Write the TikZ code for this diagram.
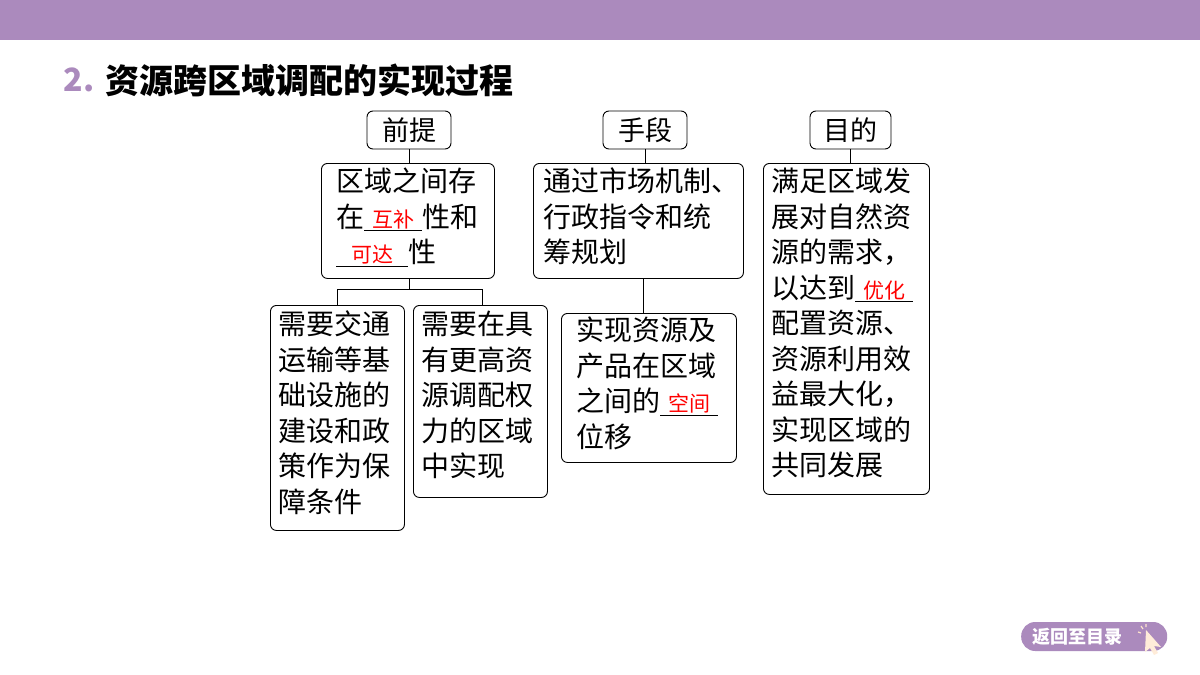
\documentclass[tikz,border=0pt]{standalone}
\usepackage{fontspec}
\setmainfont{Noto Sans CJK SC}
\definecolor{purp}{HTML}{AB8ABD}
\newcommand{\blank}[2]{\underline{\hbox to #1pt{\hss\textcolor{red}{\fontsize{21}{21}\selectfont #2}\hss}}}
\tikzset{
 box/.style={draw,rounded corners=6pt,line width=0.9pt,anchor=north west,inner sep=0pt},
 txt/.style={anchor=north west,align=left,font=\fontsize{28}{35.5}\selectfont,inner sep=0pt},
 head/.style={draw,rounded corners=6pt,line width=0.9pt,font=\fontsize{27}{30}\selectfont,inner sep=0pt},
 ln/.style={line width=0.8pt}
}
\begin{document}
\begin{tikzpicture}[x=1pt,y=-1pt]
\useasboundingbox (0,0) rectangle (1200,675);
\fill[purp] (0,0) rectangle (1200,40);
\node[anchor=west,text=purp,font=\fontsize{32}{32}\selectfont\bfseries] (num) at (60,80) {2.};
\node[anchor=west,font=\fontsize{34}{34}\selectfont\bfseries] (title) at (102,80) {资源跨区域调配的实现过程};
% heads
\node[head,minimum width=84pt,minimum height=38pt] (h1) at (409,130) {前提};
\node[head,minimum width=84pt,minimum height=38pt] (h2) at (645,130) {手段};
\node[head,minimum width=81pt,minimum height=38pt] (h3) at (850.5,130) {目的};
% boxes
\node[box,minimum width=173pt,minimum height=115pt] (a) at (321,163) {};
\node[txt] (at) at (336,168) {区域之间存\\在\blank{58}{互补}性和\\\blank{72}{可达}性};
\node[box,minimum width=210pt,minimum height=115pt] (b) at (533,163) {};
\node[txt] (bt) at (543,168) {通过市场机制、\\行政指令和统\\筹规划};
\node[box,minimum width=166pt,minimum height=331pt] (c) at (763,163) {};
\node[txt] (ct) at (771,168) {满足区域发\\展对自然资\\源的需求，\\以达到\blank{58}{优化}\\配置资源、\\资源利用效\\益最大化，\\实现区域的\\共同发展};
\node[box,minimum width=134pt,minimum height=225pt] (d) at (270,305) {};
\node[txt] (dt) at (278,311) {需要交通\\运输等基\\础设施的\\建设和政\\策作为保\\障条件};
\node[box,minimum width=134pt,minimum height=192pt] (e) at (413,305) {};
\node[txt] (et) at (421,311) {需要在具\\有更高资\\源调配权\\力的区域\\中实现};
\node[box,minimum width=175pt,minimum height=149pt] (f) at (561,313) {};
\node[txt] (ft) at (576,317) {实现资源及\\产品在区域\\之间的\blank{58}{空间}\\位移};
% connectors
\draw[ln] (h1.south) -- (h1.south |- a.north);
\draw[ln] (h2.south) -- (h2.south |- b.north);
\draw[ln] (h3.south) -- (h3.south |- c.north);
\coordinate (j) at (409,289);
\draw[ln] (a.south -| j) -- (j);
\draw[ln] (337,305) -- (337,289) -- (482,289) -- (482,305);
\draw[ln] (b.south -| h2.south) ++(-2,0) -- ++(0,35);
% button
\node[fill=purp,rounded corners=14pt,minimum width=146pt,minimum height=29pt,anchor=west,inner sep=0pt] (btn) at (1021,636.5) {};
\node[text=white,font=\fontsize{18}{18}\selectfont\bfseries,anchor=west,inner sep=0pt] (btnt) at (1032,636.5) {返回至目录};
\fill[white!85!orange] (1146,630) -- (1161,647) -- (1154,646) -- (1158,653) -- (1154,655) -- (1150,648) -- (1145,652) -- cycle;
\draw[white!80!orange,line width=1.2pt] (1141,626)--(1143,629) (1146,624)--(1146,627) (1138,632)--(1141,633);
\end{tikzpicture}
\end{document}
